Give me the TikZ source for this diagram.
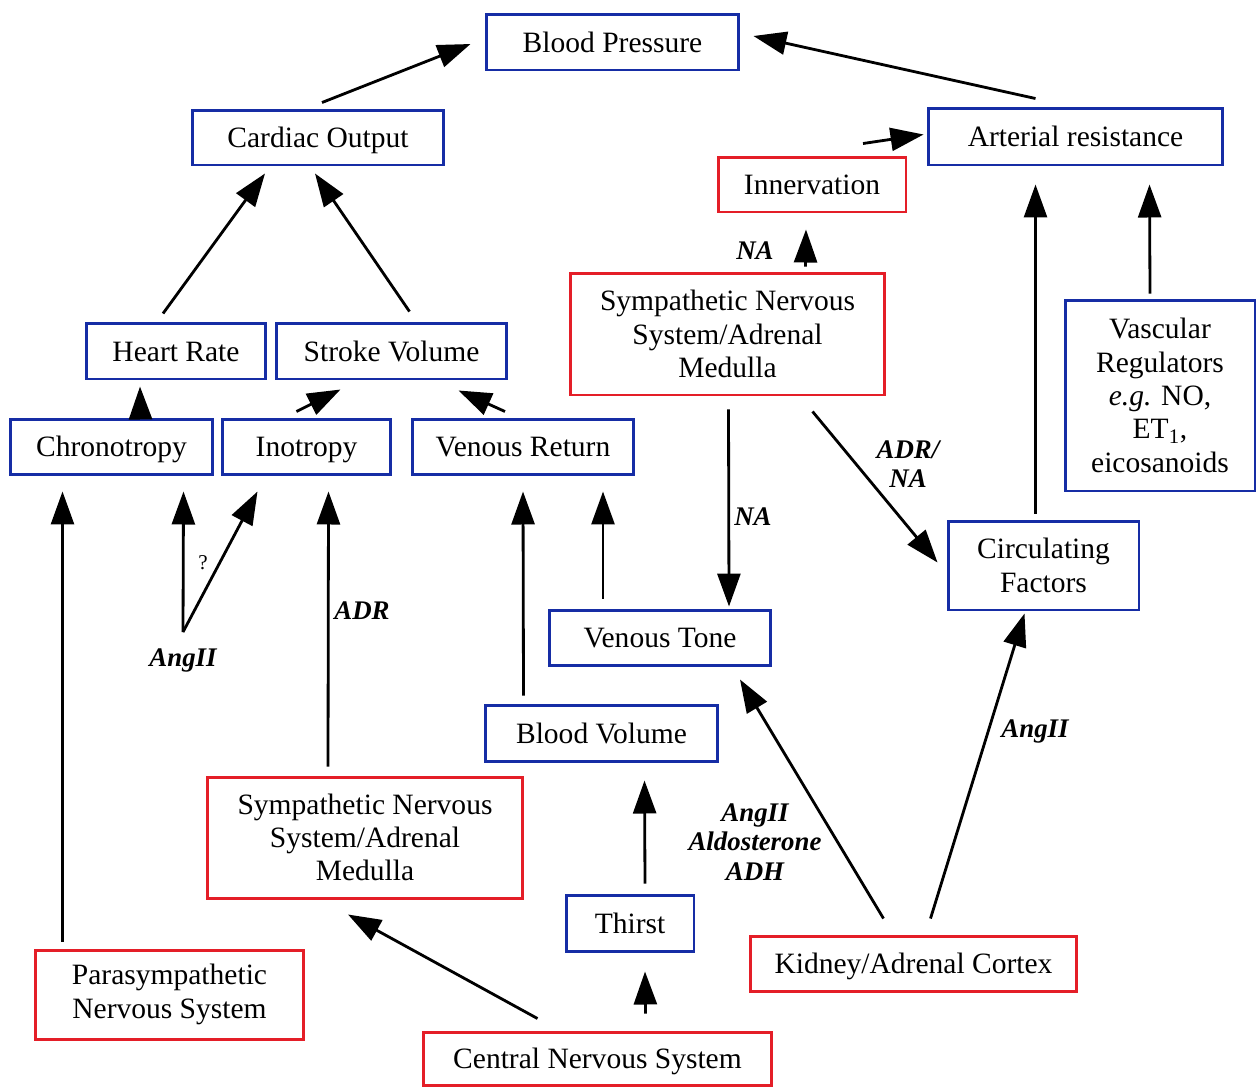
\documentclass[tikz,border=0pt]{standalone}
\usepackage{fontspec}
\setmainfont{Liberation Serif}
\usetikzlibrary{arrows.meta, calc}
\definecolor{boxblue}{RGB}{22,45,165}
\definecolor{boxred}{RGB}{228,30,40}
\tikzset{
->, % every connector is directed
>={Triangle[length=0.66cm, width=0.46cm]}, % big solid arrow heads
box/.style={draw, line width=1.7pt, inner sep=0pt, font=\fontsize{16.8}{19}\selectfont, text height=11.6pt, text depth=0pt}, % common box look
multi/.style={align=center, text height=, text depth=}, % boxes with several lines
bluebox/.style={box, draw=boxblue}, % quantities
redbox/.style={box, draw=boxred}, % control systems
lbl/.style={font=\fontsize{15.3}{16.8}\selectfont\bfseries\itshape, align=center}, % mediators on the edges
}
\begin{document}
\begin{tikzpicture}[x=0.02cm, y=-0.02cm, line width=1.6pt]
    \useasboundingbox (0,0) rectangle (1260,1086);
    % boxes
    \node[bluebox, minimum width=5.06cm, minimum height=1.12cm] (bp) at (612.5,42) {Blood Pressure};
    \node[bluebox, minimum width=5.04cm, minimum height=1.10cm] (co) at (318,137.5) {Cardiac Output};
    \node[bluebox, minimum width=5.90cm, minimum height=1.14cm] (ar) at (1075.5,136.5) {Arterial resistance};
    \node[redbox, minimum width=3.76cm, minimum height=1.10cm] (inn) at (812,184.5) {Innervation};
    \node[redbox, multi, minimum width=6.30cm, minimum height=2.44cm] (snsT) at (727.5,334) {Sympathetic Nervous\\System/Adrenal\\Medulla};
    \node[bluebox, multi, minimum width=3.80cm, minimum height=3.82cm] (vr) at (1160,395.5) {Vascular\\Regulators\\\textit{e.g.} NO,\\ET\textsubscript{1},\\eicosanoids};
    \node[bluebox, minimum width=3.60cm, minimum height=1.12cm] (hr) at (176,351) {Heart Rate};
    \node[bluebox, minimum width=4.62cm, minimum height=1.12cm] (sv) at (391.5,351) {Stroke Volume};
    \node[bluebox, minimum width=4.06cm, minimum height=1.10cm] (chr) at (111.5,446.5) {Chronotropy};
    \node[bluebox, minimum width=3.38cm, minimum height=1.10cm] (ino) at (306.5,446.5) {Inotropy};
    \node[bluebox, minimum width=4.44cm, minimum height=1.10cm] (vret) at (523,446.5) {Venous Return};
    \node[bluebox, multi, minimum width=3.82cm, minimum height=1.78cm] (cf) at (1043.5,565.5) {Circulating\\Factors};
    \node[bluebox, minimum width=4.44cm, minimum height=1.10cm] (vt) at (660,637.5) {Venous Tone};
    \node[bluebox, minimum width=4.66cm, minimum height=1.12cm] (bv) at (601.5,733) {Blood Volume};
    \node[redbox, multi, minimum width=6.32cm, minimum height=2.42cm] (snsB) at (365,837.5) {Sympathetic Nervous\\System/Adrenal\\Medulla};
    \node[bluebox, minimum width=2.56cm, minimum height=1.12cm] (th) at (630,923) {Thirst};
    \node[redbox, minimum width=6.54cm, minimum height=1.10cm] (kid) at (913.5,963.5) {Kidney/Adrenal Cortex};
    \node[redbox, multi, minimum width=5.38cm, minimum height=1.78cm] (psns) at (169.5,994.5) {Parasympathetic\\Nervous System};
    \node[redbox, minimum width=6.98cm, minimum height=1.06cm] (cns) at (597.5,1058.5) {Central Nervous System};
    \coordinate (ang) at (183,632);

    % connectors
    \draw ($(co.north)+(4,-6)$) -- ($(bp.west)+(-14,2)$);
    \draw ($(ar.north)+(-40,-8)$) -- ($(bp.east)+(13,-6)$);
    \draw ($(inn.north)+(51,-12)$) -- ($(ar.west)+(-3,-2)$);
    \draw ($(hr.north)+(-13,-8)$) -- ($(co.south)+(-53,7)$);
    \draw ($(sv.north)+(18,-10)$) -- ($(co.south)+(-3,7)$);
    \draw ($(chr.north)+(29,0)$) -- ($(hr.south)+(-36,6)$);
    \draw ($(ino.north)+(-10,-6)$) -- ($(sv.south)+(-51,9)$);
    \draw ($(vret.north)+(-18,-6)$) -- ($(sv.south)+(67,10)$);
    \draw ($(psns.north)+(-107,-7)$) -- ($(chr.south)+(-49,16)$);
    \draw (ang) -- ($(chr.south)+(72,16)$);
    \draw (ang) -- ($(ino.south)+(-49,16)$);
    \draw ($(snsB.north)+(-37,-9)$) -- ($(ino.south)+(22,16)$);
    \draw ($(bv.north)+(-78,-8)$) -- ($(vret.south)+(0,16)$);
    \draw ($(vt.north)+(-57,-10)$) -- ($(vret.south)+(80,16)$);
    \draw ($(snsT.south)+(1,13)$) -- ($(vt.north)+(69,-2)$);
    \draw ($(snsT.south)+(85,15)$) -- ($(cf.west)+(-9,-3)$);
    \draw ($(snsT.north)+(78,-5)$) -- ($(inn.south)+(-6,16)$);
    \draw ($(cf.north)+(-8,-6)$) -- ($(ar.south)+(-40,18)$);
    \draw ($(vr.north)+(-10,-5)$) -- ($(ar.south)+(74,18)$);
    \draw ($(kid.north)+(-30,-16)$) -- ($(vt.south)+(80,13)$);
    \draw ($(kid.north)+(17,-16)$) -- ($(cf.south)+(-19,2)$);
    \draw ($(th.north)+(15,-10)$) -- ($(bv.south)+(43,18)$);
    \draw ($(cns.north)+(48,-17)$) -- ($(th.south)+(15,19)$);
    \draw ($(cns.north)+(-60,-12)$) -- ($(snsB.south)+(-17,15)$);

    % labels
    \node[font=\fontsize{12}{12}\selectfont] (qm) at (203,563) {?};
    \node[lbl] (l-ang) at (183,660) {AngII};
    \node[lbl] (l-adr) at (362,611) {ADR};
    \node[lbl] (l-na1) at (755,251) {NA};
    \node[lbl] (l-na2) at (753,517) {NA};
    \node[lbl] (l-adrna) at (908,464) {ADR/\\NA};
    \node[lbl] (l-kid) at (755,842) {AngII\\Aldosterone\\ADH};
    \node[lbl] (l-ang2) at (1035,731) {AngII};
\end{tikzpicture}
\end{document}
